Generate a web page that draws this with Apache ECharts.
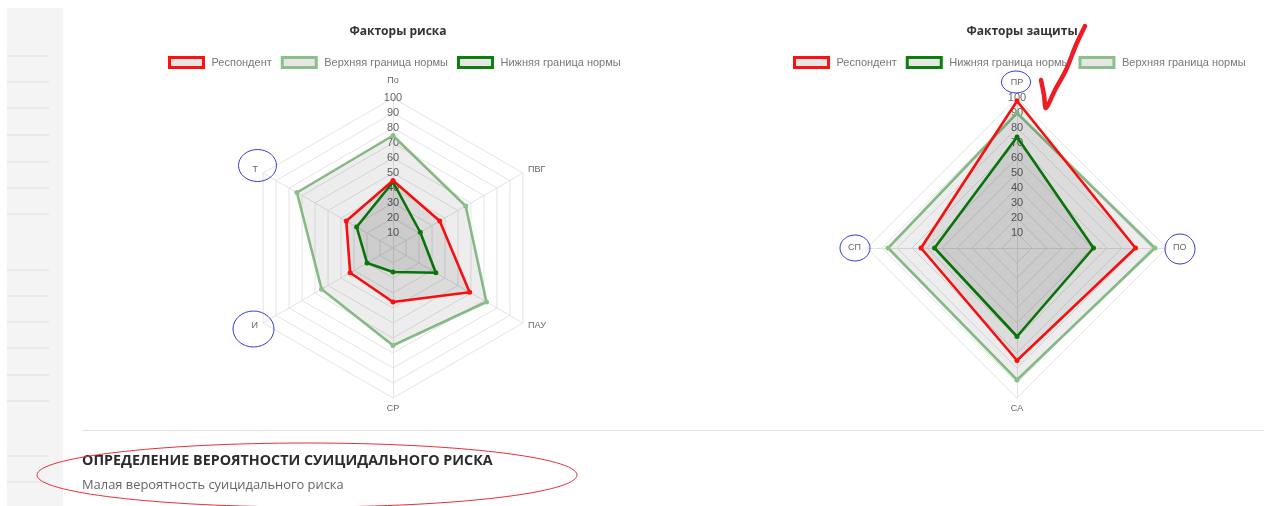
<!DOCTYPE html>
<html>
<head>
<meta charset="utf-8">
<script src="https://cdn.jsdelivr.net/npm/echarts@6/dist/echarts.min.js"></script>
<style>
html, body { margin: 0; padding: 0; background: #fff; }
#chart { width: 1264px; height: 506px; }
</style>
</head>
<body>
<div id="chart"></div>
<script>
// Risk factors (axes listed counter-clockwise from the top, as ECharts lays them out)
const riskAxes = ['По', 'Т', 'И', 'СР', 'ПАУ', 'ПВГ'];
const riskRespondent = [45, 36, 33, 36, 59, 36];
const riskUpper = [75, 74, 55, 65, 72, 56];
const riskLower = [44, 28, 20, 16, 33, 21];

// Protective factors
const protAxes = ['ПР', 'СП', 'СА', 'ПО'];
const protRespondent = [98, 64, 75, 79];
const protLower = [74, 55, 59, 51];
const protUpper = [90, 86, 88, 92];

const scaleMax = 100;
const sidebarLines = [56, 82, 108, 135, 162, 188, 214, 270, 296, 322, 348, 375, 401, 456, 482];

const RED = '#ff1010';
const DARK = '#0b800b';
const LIGHT = '#8cc08a';
const FONT = '"Liberation Sans", Arial, sans-serif';

function indicators(names, topGap) {
  return names.map((n, i) => i === 0
    ? { name: n, min: 0, max: scaleMax, nameGap: topGap, axisLabel: { show: true } }
    : { name: n, min: 0, max: scaleMax });
}

function radarCfg(center, names, topGap) {
  return {
    center: center,
    radius: 150,
    shape: 'polygon',
    splitNumber: 10,
    indicator: indicators(names, topGap),
    axisName: { color: '#666', fontSize: 9, fontFamily: FONT },
    nameGap: 6,
    axisLine: { lineStyle: { color: '#e4e4e4', width: 1 } },
    splitLine: { lineStyle: { color: '#e4e4e4', width: 1 } },
    splitArea: { show: false },
    axisTick: { show: false },
    axisLabel: {
      show: false, color: '#666', fontSize: 11, fontFamily: FONT,
      margin: 0, align: 'center', verticalAlign: 'middle',
      formatter: v => (v === 0 ? '' : String(v))
    }
  };
}

function radarSeries(name, idx, values, color, z) {
  return {
    type: 'radar', name: name, radarIndex: idx, z: z,
    symbol: 'circle', symbolSize: 5,
    itemStyle: { color: color },
    lineStyle: { color: color, width: 2.6 },
    areaStyle: { color: 'rgba(0,0,0,0.1)' },
    data: [{ value: values, name: name }]
  };
}

function legendItem(name, color) {
  return { name: name, icon: 'rect', itemStyle: { color: '#e6e6e6', borderColor: color, borderWidth: 3 } };
}

function blueEllipse(cx, cy, rx, ry) {
  return {
    type: 'ellipse', shape: { cx: cx, cy: cy, rx: rx, ry: ry },
    style: { fill: 'none', stroke: '#3b3bd4', lineWidth: 1 }, z: 50, silent: true
  };
}

const legendText = { color: '#777', fontSize: 11, fontFamily: FONT, padding: [0, 0, 0, 3] };
const titleText = { fontSize: 12, fontWeight: 'bold', color: '#333', fontFamily: '"Open Sans", sans-serif' };

const graphics = [
  // left navigation column
  { type: 'rect', shape: { x: 7, y: 8, width: 56, height: 498 }, style: { fill: '#f4f4f4' }, z: -10 },
  ...sidebarLines.map(y => ({
    type: 'line', shape: { x1: 7, y1: y, x2: 49, y2: y }, style: { stroke: '#dedede', lineWidth: 1 }, z: -9
  })),
  // divider above the conclusion block
  { type: 'line', shape: { x1: 82, y1: 430.5, x2: 1264, y2: 430.5 }, style: { stroke: '#e2e2e2', lineWidth: 1 } },
  {
    type: 'text', left: 82, top: 454,
    style: { text: 'ОПРЕДЕЛЕНИЕ ВЕРОЯТНОСТИ СУИЦИДАЛЬНОГО РИСКА', fill: '#2b2b2b', font: 'bold 14.3px "Open Sans", sans-serif' }
  },
  {
    type: 'text', left: 82, top: 479,
    style: { text: 'Малая вероятность суицидального риска', fill: '#666', font: '12.9px "Open Sans", sans-serif' }
  },
  // hand-drawn marks
  blueEllipse(257.5, 165.5, 19, 16),
  blueEllipse(253.5, 329, 20.5, 18),
  blueEllipse(1016, 82, 14.5, 11),
  blueEllipse(855, 248, 15, 13),
  blueEllipse(1180, 249, 15, 15),
  {
    type: 'ellipse', shape: { cx: 307, cy: 475, rx: 270, ry: 32 },
    style: { fill: 'none', stroke: '#e8303a', lineWidth: 1 }, z: 50, silent: true
  },
  {
    type: 'polyline', shape: { points: [[1041, 80], [1044, 95], [1046, 108], [1055, 90], [1066, 70], [1076, 45], [1085, 26]], smooth: 0.3 },
    style: { stroke: '#ee1c25', lineWidth: 4.5, lineCap: 'round', lineJoin: 'round', fill: 'none' }, z: 60, silent: true
  }
];

const option = {
  animation: false,
  backgroundColor: '#fff',
  textStyle: { fontFamily: FONT },
  title: [
    { text: 'Факторы риска', left: 393, top: 21, textAlign: 'center', textStyle: titleText },
    { text: 'Факторы защиты', left: 1017, top: 21, textAlign: 'center', textStyle: titleText }
  ],
  legend: [
    {
      left: 168, top: 56, padding: 0, itemWidth: 34, itemHeight: 10, itemGap: 9,
      textStyle: legendText, selectedMode: false,
      data: [legendItem('Респондент', RED), legendItem('Верхняя граница нормы', LIGHT), legendItem('Нижняя граница нормы', DARK)]
    },
    {
      left: 793, top: 56, padding: 0, itemWidth: 34, itemHeight: 10, itemGap: 9,
      textStyle: legendText, selectedMode: false,
      data: [legendItem('Респондент', RED), legendItem('Нижняя граница нормы', DARK), legendItem('Верхняя граница нормы', LIGHT)]
    }
  ],
  radar: [radarCfg([393, 248], riskAxes, 13), radarCfg([1017, 248], protAxes, 11)],
  series: [
    radarSeries('Верхняя граница нормы', 0, riskUpper, LIGHT, 2),
    radarSeries('Нижняя граница нормы', 0, riskLower, DARK, 3),
    radarSeries('Респондент', 0, riskRespondent, RED, 4),
    radarSeries('Верхняя граница нормы', 1, protUpper, LIGHT, 2),
    radarSeries('Нижняя граница нормы', 1, protLower, DARK, 3),
    radarSeries('Респондент', 1, protRespondent, RED, 4)
  ],
  graphic: graphics
};

const chart = echarts.init(document.getElementById('chart'), null, { renderer: 'canvas' });
chart.setOption(option);
</script>
</body>
</html>
